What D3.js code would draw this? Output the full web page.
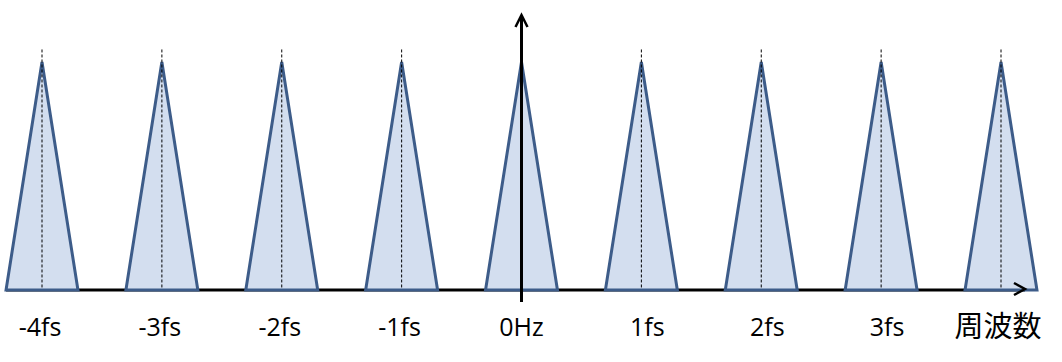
<!DOCTYPE html>
<html><head><meta charset="utf-8">
<script src="https://cdn.jsdelivr.net/npm/d3@7"></script>
<style>body{margin:0;background:#fff}svg{display:block}</style>
</head><body>
<script>
const tickLabels = ["-4fs","-3fs","-2fs","-1fs","0Hz","1fs","2fs","3fs"];
const centers = [-4,-3,-2,-1,0,1,2,3,4];
const peaks = [1,1,1,1,1,1,1,1,1];
const axisTitle = "周波数";
const halfWidth = 0.3;

const W = 1062, H = 362;
const svg = d3.select("body").append("svg").attr("width", W).attr("height", H);
const x = d3.scaleLinear().domain([-4, 4]).range([42, 1001]);
const y = d3.scaleLinear().domain([0, 1]).range([290, 62]);

// horizontal axis line (behind)
svg.append("line").attr("x1", x(-4.3)).attr("x2", x(4.2)).attr("y1", y(0)).attr("y2", y(0))
  .attr("stroke", "#000").attr("stroke-width", 3);

const tri = d3.line().x(d => x(d[0])).y(d => y(d[1]));
centers.forEach((c, i) => {
  svg.append("path")
    .attr("d", tri([[c - halfWidth, 0], [c, peaks[i]], [c + halfWidth, 0]]) + "Z")
    .attr("fill", "#d3deef").attr("stroke", "#3d5c89").attr("stroke-width", 3)
    .attr("stroke-linejoin", "miter");
  if (c !== 0) {
    svg.append("line").attr("x1", x(c)).attr("x2", x(c))
      .attr("y1", y(1.055)).attr("y2", y(0) - 1)
      .attr("stroke", "#000").attr("stroke-width", 1).attr("stroke-dasharray", "3,2");
  }
});

// horizontal arrowhead
const ax = x(4.2), ay = y(0) - 1;
svg.append("path").attr("d", `M${ax-11},${ay-6}L${ax},${ay}L${ax-11},${ay+6}`)
  .attr("fill", "none").attr("stroke", "#000").attr("stroke-width", 2.5);

// vertical axis
svg.append("line").attr("x1", x(0)).attr("x2", x(0)).attr("y1", y(-0.053)).attr("y2", 16)
  .attr("stroke", "#000").attr("stroke-width", 3);
svg.append("path").attr("d", `M${x(0)-6},${27}L${x(0)},${15}L${x(0)+6},${27}`)
  .attr("fill", "none").attr("stroke", "#000").attr("stroke-width", 2.5);

// tick labels
svg.selectAll("text.tick").data(tickLabels).enter().append("text")
  .attr("x", (d, i) => x(centers[i]) + (centers[i] > 0 ? 6 : (centers[i] < 0 ? -2 : 0)))
  .attr("y", 336)
  .attr("text-anchor", "middle")
  .attr("font-family", "'Open Sans', sans-serif").attr("font-size", 25)
  .attr("fill", "#000").text(d => d);

svg.append("text").attr("x", 998).attr("y", 337).attr("text-anchor", "middle")
  .attr("font-family", "'Noto Sans CJK JP', sans-serif").attr("font-size", 29)
  .attr("fill", "#000").text(axisTitle);
</script>
</body></html>
